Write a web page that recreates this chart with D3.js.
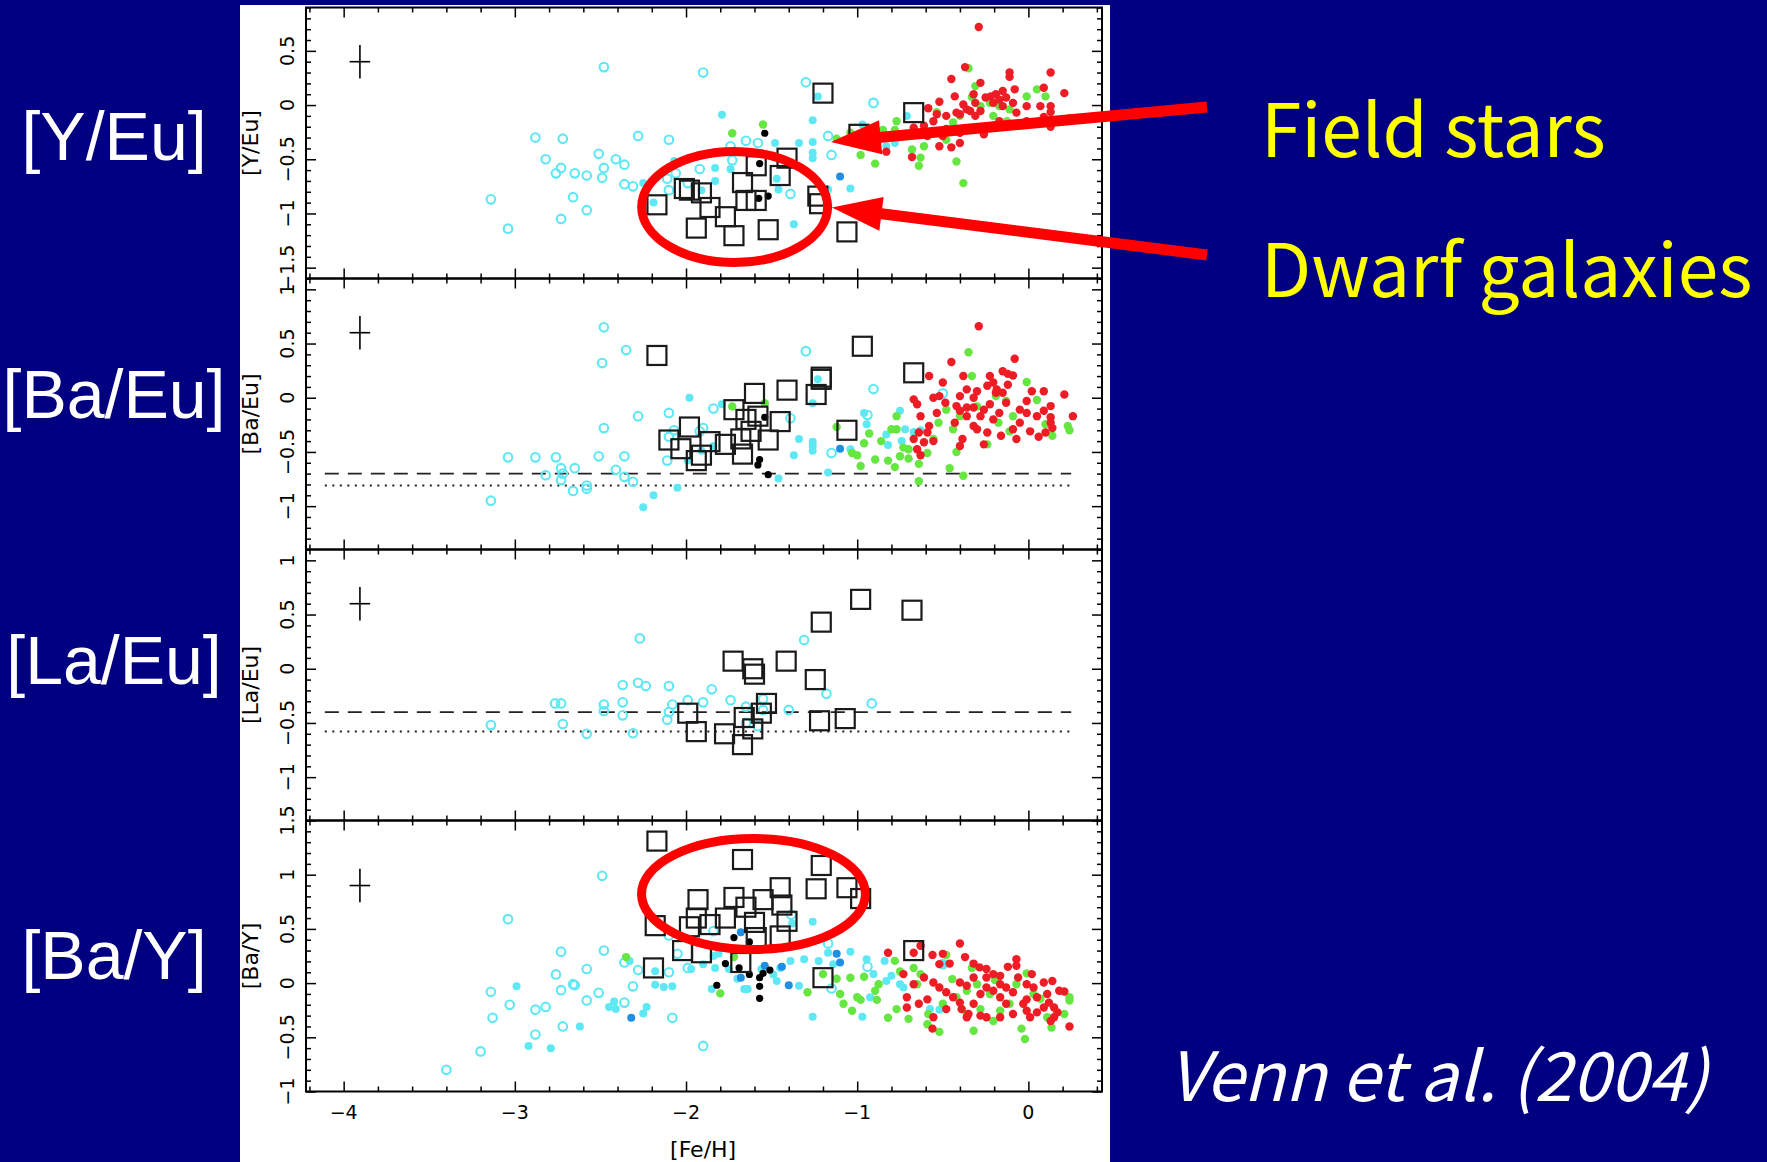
<!DOCTYPE html>
<html>
<head>
<meta charset="utf-8">
<script src="https://cdn.jsdelivr.net/npm/d3@7"></script>
<style>
  body { margin: 0; background: #000080; }
  svg { display: block; }
</style>
</head>
<body>
<svg id="chart" width="1767" height="1162"></svg>
<script>
// ---- data: [ [Fe/H], ratio ] ----

// panel 1: [Y/Eu]
const yeuHaloOpen = [[-2.48,0.35],[-1.90,0.30],[-2.88,-0.30],[-2.72,-0.31],[-2.28,-0.285],[-2.10,-0.32],[-2.82,-0.50],[-2.73,-0.58],[-2.76,-0.63],[-2.65,-0.63],[-2.58,-0.65],[-2.51,-0.45],[-2.48,-0.58],[-2.49,-0.67],[-2.41,-0.50],[-2.36,-0.55],[-2.36,-0.73],[-2.31,-0.75],[-3.14,-0.87],[-2.66,-0.85],[-2.58,-0.97],[-2.73,-1.05],[-3.04,-1.14],[-2.11,-0.68],[-2.06,-0.63],[-2.10,-0.785],[-1.99,-0.72],[-1.92,-0.59],[-1.74,-0.38],[-1.65,-0.33],[-1.58,-0.35],[-1.73,-0.51],[-1.30,0.21],[-0.905,0.02],[-1.17,-0.285],[-1.15,-0.46],[-1.39,-0.82]];
const yeuHaloFill = [[-1.79,-0.09],[-2.19,-0.90],[-1.83,-0.70],[-1.91,-0.785],[-1.83,-0.58],[-1.74,-0.59],[-2.25,-0.72],[-2.07,-0.515],[-1.23,0.08],[-1.26,-0.14],[-1.26,-0.34],[-1.34,-0.35],[-1.48,-0.35],[-1.26,-0.44],[-1.26,-0.49],[-1.47,-0.68],[-1.46,-0.78],[-1.17,-0.78],[-1.04,-0.77],[-1.37,-1.10],[-0.97,-0.18],[-0.71,-0.10],[-0.83,-0.38],[-0.78,-0.35]];
const yeuBlue = [[-1.10,-0.66]];
const yeuThick = [[-1.73,-0.26],[-1.55,-0.18],[-0.35,0.34],[-0.31,0.175],[0.05,0.145],[0.10,0.08],[-0.01,0.08],[-0.33,0.075],[-0.77,-0.15],[-0.85,-0.23],[-0.78,-0.23],[-0.98,-0.46],[-0.895,-0.54],[-0.68,-0.41],[-0.63,-0.485],[-0.64,-0.56],[-0.42,-0.52],[-0.38,-0.72],[-0.535,-0.065],[-0.67,-0.255],[-0.48,-0.32],[-0.44,-0.16],[-0.40,-0.10],[-0.28,-0.01],[-0.225,0.02],[-0.17,-0.01],[-0.11,-0.04],[-0.205,-0.10],[-0.125,-0.15],[0.24,-0.12],[-1.12,-0.31],[-1.04,-0.255],[-0.945,-0.38],[-0.61,-0.38],[-0.71,-0.285]];
const yeuThin = [[-0.29,0.72],[-0.37,0.35],[-0.45,0.24],[-0.11,0.30],[-0.11,0.26],[0.13,0.30],[-0.28,0.205],[0.21,0.11],[0.09,0.16],[-0.08,0.145],[-0.15,0.13],[-0.19,0.10],[-0.22,0.08],[-0.32,0.10],[-0.43,0.08],[-0.38,0.005],[-0.52,0.03],[-0.585,-0.03],[-0.42,-0.07],[-0.36,-0.04],[-0.31,-0.10],[-0.25,0.07],[-0.205,0.02],[-0.15,-0.01],[-0.09,0.02],[-0.07,-0.07],[-0.01,-0.01],[0.07,-0.01],[0.13,-0.01],[0.13,-0.065],[0.09,-0.11],[0.13,-0.20],[-0.01,-0.15],[-0.08,-0.18],[-0.17,-0.15],[-0.205,-0.19],[-0.26,-0.27],[-0.32,-0.22],[-0.40,-0.255],[-0.48,-0.22],[-0.555,-0.15],[-0.61,-0.19],[-0.67,-0.21],[-0.59,-0.285],[-0.50,-0.285],[-0.40,-0.35],[-0.45,-0.39],[-0.52,-0.38],[-0.68,-0.48],[-0.83,-0.43],[-0.40,-0.085],[-0.34,-0.055],[-0.28,-0.055],[-0.13,0.07],[-0.17,0.05],[-0.31,0.02],[-0.48,-0.10],[-0.535,-0.085]];
const yeuBlack = [[-1.54,-0.26],[-1.57,-0.54],[-1.575,-0.86],[-1.52,-0.84]];
const yeuDwarf = [[-2.17,-0.92],[-2.01,-0.77],[-1.98,-0.785],[-1.91,-0.81],[-1.86,-0.945],[-1.94,-1.135],[-1.77,-1.03],[-1.72,-1.205],[-1.67,-0.715],[-1.59,-0.56],[-1.65,-0.88],[-1.59,-0.88],[-1.52,-1.15],[-1.20,0.11],[-0.67,-0.07],[-1.41,-0.49],[-1.45,-0.65],[-1.23,-0.84],[-1.22,-0.91],[-1.06,-1.17],[-0.99,-0.27]];

// panel 2: [Ba/Eu]
const baeuHaloOpen = [[-2.48,0.65],[-2.35,0.44],[-2.49,0.32],[-2.28,-0.17],[-2.10,-0.14],[-2.48,-0.28],[-3.04,-0.55],[-2.88,-0.55],[-2.76,-0.55],[-2.51,-0.54],[-2.36,-0.54],[-2.73,-0.65],[-2.65,-0.65],[-2.82,-0.715],[-2.72,-0.70],[-2.73,-0.76],[-2.41,-0.665],[-2.36,-0.73],[-2.31,-0.775],[-2.66,-0.86],[-2.58,-0.81],[-2.58,-0.84],[-3.14,-0.95],[-2.11,-0.58],[-2.10,-0.36],[-1.84,-0.10],[-1.90,-0.28],[-2.07,-0.30],[-1.92,-0.31],[-1.30,0.43],[-0.905,0.08],[-1.39,-0.19],[-1.15,-0.51],[-0.94,-0.16],[-0.50,0.04]];
const baeuHaloFill = [[-1.98,0.0],[-1.79,-0.06],[-2.25,-1.01],[-2.19,-0.90],[-2.05,-0.83],[-1.99,-0.58],[-1.91,-0.49],[-1.84,-0.445],[-1.23,0.17],[-1.26,-0.05],[-0.96,-0.14],[-0.945,-0.245],[-1.34,-0.38],[-1.26,-0.405],[-1.26,-0.445],[-1.26,-0.49],[-1.37,-0.53],[-1.04,-0.475],[-1.17,-0.69],[-1.46,-0.745],[-0.83,-0.34],[-0.82,-0.435],[-0.75,-0.12],[-0.72,-0.29],[-0.74,-0.40],[-0.67,-0.315],[-0.63,-0.30]];
const baeuBlue = [[-1.10,-0.47]];
const baeuThick = [[-1.73,-0.08],[-1.54,-0.05],[-1.12,-0.27],[-1.03,-0.51],[-1.00,-0.53],[-0.98,-0.63],[-0.96,-0.42],[-0.93,-0.33],[-0.895,-0.57],[-0.86,-0.40],[-0.82,-0.58],[-0.78,-0.64],[-0.80,-0.29],[-0.77,-0.17],[-0.77,-0.29],[-0.75,-0.54],[-0.73,-0.46],[-0.70,-0.56],[-0.70,-0.475],[-0.64,-0.61],[-0.64,-0.77],[-0.59,-0.51],[-0.555,-0.38],[-0.525,-0.23],[-0.46,-0.65],[-0.44,-0.29],[-0.42,-0.50],[-0.38,-0.72],[-0.35,0.42],[-0.33,0.20],[-0.30,-0.08],[-0.24,-0.43],[-0.19,0.015],[-0.175,-0.23],[-0.11,-0.31],[-0.09,-0.17],[-0.01,0.145],[0.05,-0.02],[0.10,-0.245],[0.14,-0.35],[0.23,-0.26],[0.24,-0.30],[-0.48,-0.11],[-0.40,-0.17],[-0.13,-0.03]];
const baeuThin = [[-0.29,0.66],[-0.08,0.36],[-0.45,0.33],[-0.58,0.20],[-0.50,0.14],[-0.38,0.20],[-0.15,0.245],[-0.12,0.22],[-0.09,0.205],[-0.12,0.12],[-0.24,0.11],[-0.30,0.06],[-0.36,0.077],[-0.40,0.015],[-0.32,0.0],[-0.19,0.046],[-0.15,0.046],[-0.13,-0.046],[-0.225,-0.06],[-0.17,-0.14],[-0.205,-0.20],[-0.26,-0.11],[-0.36,-0.09],[-0.40,-0.12],[-0.42,-0.077],[-0.555,0.0],[-0.52,0.015],[-0.67,-0.015],[-0.65,-0.06],[-0.63,-0.17],[-0.58,-0.26],[-0.59,-0.32],[-0.67,-0.38],[-0.64,-0.32],[-0.61,-0.41],[-0.65,-0.475],[-0.63,-0.53],[-0.555,-0.40],[-0.535,-0.14],[-0.485,-0.046],[-0.43,-0.23],[-0.385,-0.38],[-0.40,-0.445],[-0.36,-0.17],[-0.32,-0.26],[-0.30,-0.29],[-0.26,-0.43],[-0.24,-0.32],[-0.16,-0.35],[-0.09,-0.29],[-0.07,-0.38],[-0.05,-0.23],[-0.01,-0.14],[0.01,-0.31],[0.02,0.06],[0.05,-0.17],[0.09,0.06],[0.09,-0.12],[0.13,-0.077],[0.13,-0.18],[0.13,-0.23],[0.14,-0.28],[0.10,-0.32],[0.06,-0.36],[-0.01,-0.03],[-0.05,-0.11],[0.21,0.03],[0.26,-0.17],[-0.225,0.20],[-0.205,0.14],[-0.185,0.077],[-0.28,-0.17],[-0.32,-0.09]];
const baeuBlack = [[-1.54,-0.18],[-1.57,-0.57],[-1.58,-0.62],[-1.52,-0.71]];
const baeuDwarf = [[-2.17,0.39],[-0.97,0.475],[-0.67,0.23],[-1.21,0.17],[-1.21,0.19],[-1.24,0.03],[-1.41,0.07],[-1.60,0.04],[-1.72,-0.11],[-1.65,-0.20],[-1.62,-0.31],[-1.68,-0.38],[-1.77,-0.43],[-1.67,-0.52],[-1.98,-0.27],[-2.10,-0.39],[-2.03,-0.47],[-1.91,-0.53],[-1.94,-0.58],[-1.86,-0.405],[-1.45,-0.22],[-1.52,-0.39],[-1.06,-0.30],[-1.58,-0.17]];

// panel 3: [La/Eu]
const laeuHaloOpen = [[-2.27,0.28],[-1.31,0.265],[-2.37,-0.15],[-2.28,-0.13],[-2.235,-0.16],[-2.10,-0.16],[-1.85,-0.19],[-1.18,-0.23],[-2.765,-0.32],[-2.73,-0.32],[-2.48,-0.33],[-2.48,-0.39],[-2.37,-0.31],[-2.37,-0.43],[-2.08,-0.33],[-2.10,-0.40],[-2.11,-0.47],[-1.99,-0.29],[-1.90,-0.31],[-1.74,-0.29],[-1.55,-0.28],[-1.65,-0.35],[-1.55,-0.38],[-1.40,-0.38],[-0.915,-0.32],[-3.14,-0.52],[-2.72,-0.51],[-2.58,-0.60],[-2.31,-0.595],[-1.65,-0.50],[-1.58,-0.53]];
const laeuDwarf = [[-0.98,0.64],[-0.68,0.54],[-1.21,0.43],[-1.725,0.07],[-1.415,0.07],[-1.61,0.0],[-1.60,-0.05],[-1.245,-0.10],[-1.53,-0.32],[-1.56,-0.41],[-1.99,-0.41],[-1.66,-0.45],[-1.22,-0.48],[-1.07,-0.46],[-1.94,-0.58],[-1.775,-0.60],[-1.61,-0.555],[-1.67,-0.70]];

// panel 4: [Ba/Y]
const bayHaloOpen = [[-2.49,0.99],[-3.04,0.59],[-2.73,0.29],[-2.48,0.30],[-2.58,0.13],[-2.76,0.08],[-3.14,-0.08],[-2.73,-0.065],[-2.66,-0.01],[-2.65,-0.02],[-2.51,-0.09],[-2.58,-0.16],[-3.03,-0.20],[-2.88,-0.245],[-2.82,-0.22],[-3.13,-0.32],[-2.72,-0.40],[-2.88,-0.475],[-3.20,-0.63],[-3.40,-0.80],[-2.08,-0.32],[-1.90,-0.58],[-2.36,-0.18],[-2.31,-0.03],[-2.28,0.12],[-2.36,0.19],[-2.10,0.10],[-2.05,0.27],[-1.99,0.14],[-1.84,0.48],[-2.10,0.44],[-1.385,0.63],[-1.17,0.365],[-0.94,0.15],[-0.50,0.175],[-1.15,-0.05]];
const bayHaloFill = [[-2.99,-0.03],[-2.92,-0.58],[-2.79,-0.60],[-2.62,-0.40],[-2.45,-0.22],[-2.42,-0.17],[-2.41,-0.24],[-2.23,-0.22],[-2.25,-0.28],[-2.33,0.205],[-2.18,0.11],[-2.18,-0.015],[-2.13,-0.035],[-2.08,-0.03],[-1.97,0.13],[-1.83,0.14],[-1.81,0.27],[-1.85,-0.055],[-1.70,0.04],[-1.66,-0.055],[-1.64,-0.055],[-1.57,0.31],[-1.56,0.13],[-1.26,0.565],[-1.38,0.55],[-1.04,0.29],[-1.14,0.175],[-1.225,0.205],[-1.31,0.22],[-1.39,0.205],[-1.45,0.14],[-1.49,0.08],[-1.47,0.02],[-1.34,-0.025],[-1.26,-0.31],[-1.17,0.28],[-0.945,0.22],[-0.925,-0.13],[-0.97,-0.31],[-0.905,0.083],[-0.84,0.205],[-0.83,0.02],[-0.80,0.067],[-0.75,-0.01],[-0.73,-0.04],[-0.575,-0.24],[-0.52,-0.245],[-0.49,0.175],[-1.90,0.175],[-1.75,0.13],[-1.84,0.25]];
const bayBlue = [[-2.32,-0.32],[-1.68,0.47],[-1.68,0.05],[-1.54,0.16],[-1.12,0.27],[-1.10,0.19],[-1.44,0.15],[-1.40,-0.02]];
const bayThick = [[-2.35,0.24],[-1.80,-0.095],[-1.72,0.24],[-1.29,-0.085],[-1.20,0.083],[-1.12,0.04],[-1.10,-0.10],[-1.08,-0.19],[-1.04,0.05],[-1.03,-0.255],[-1.00,-0.13],[-0.98,-0.155],[-0.96,0.058],[-0.895,-0.07],[-0.885,-0.155],[-0.875,-0.01],[-0.82,-0.32],[-0.78,0.205],[-0.77,-0.24],[-0.75,0.107],[-0.70,-0.33],[-0.67,0.14],[-0.63,0.083],[-0.59,-0.38],[-0.585,-0.285],[-0.52,-0.45],[-0.48,0.26],[-0.50,-0.19],[-0.445,0.037],[-0.42,-0.13],[-0.39,-0.24],[-0.36,-0.07],[-0.33,0.14],[-0.30,-0.01],[-0.28,-0.24],[-0.225,-0.10],[-0.195,0.028],[-0.165,-0.255],[-0.11,-0.19],[-0.07,-0.01],[-0.04,-0.42],[-0.02,-0.515],[-0.01,0.09],[0.03,-0.10],[0.07,-0.145],[0.11,-0.315],[0.135,-0.41],[0.21,-0.285],[0.24,-0.16],[0.24,-0.13],[-0.205,-0.35],[-0.36,-0.285],[-0.32,-0.44],[-0.65,-0.01]];
const bayThin = [[-0.40,0.365],[-0.63,0.345],[-0.82,0.28],[-0.67,0.28],[-0.56,0.26],[-0.50,0.27],[-0.46,0.18],[-0.37,0.24],[-0.32,0.18],[-0.285,0.145],[-0.245,0.13],[-0.205,0.083],[-0.165,0.067],[-0.12,0.15],[-0.07,0.22],[-0.07,0.16],[0.02,0.083],[-0.06,0.052],[-0.01,-0.01],[0.03,-0.04],[0.09,0.006],[0.14,0.02],[0.18,-0.07],[0.21,-0.077],[0.11,-0.10],[0.05,-0.13],[-0.01,-0.15],[-0.03,-0.19],[-0.01,-0.255],[0.01,-0.315],[0.05,-0.27],[0.09,-0.225],[0.12,-0.18],[0.15,-0.225],[0.17,-0.27],[0.15,-0.315],[0.13,-0.35],[0.24,-0.40],[-0.09,-0.085],[-0.13,-0.04],[-0.165,-0.01],[-0.205,-0.07],[-0.245,-0.04],[-0.28,-0.10],[-0.32,-0.19],[-0.35,-0.285],[-0.39,-0.24],[-0.40,-0.18],[-0.44,-0.13],[-0.48,-0.085],[-0.52,-0.04],[-0.555,0.006],[-0.61,0.052],[-0.67,-0.01],[-0.71,-0.13],[-0.71,-0.225],[-0.64,-0.19],[-0.59,-0.15],[-0.555,-0.315],[-0.56,-0.42],[-0.40,0.006],[-0.36,-0.025],[-0.32,0.052],[-0.245,0.052],[-0.165,-0.13],[-0.13,-0.19],[-0.09,-0.285],[-0.165,-0.315],[-0.245,-0.315],[-0.28,-0.30],[-0.36,-0.315],[-0.48,-0.24],[-0.52,0.175],[-0.73,0.083]];
const bayBlack = [[-1.72,0.42],[-1.63,0.38],[-1.82,-0.02],[-1.69,0.14],[-1.63,0.08],[-1.77,0.18],[-1.57,-0.03],[-1.57,-0.14],[-1.57,0.05],[-1.51,0.12],[-1.55,0.09]];
const bayDwarf = [[-2.17,1.31],[-1.67,1.14],[-1.93,0.77],[-1.72,0.79],[-1.65,0.70],[-1.77,0.60],[-1.94,0.60],[-1.86,0.54],[-1.98,0.52],[-2.18,0.53],[-1.60,0.56],[-1.59,0.42],[-2.02,0.30],[-1.91,0.28],[-2.19,0.14],[-1.68,0.19],[-1.21,1.085],[-1.45,0.88],[-1.24,0.87],[-1.06,0.88],[-0.98,0.78],[-1.44,0.72],[-1.41,0.57],[-1.45,0.435],[-1.55,0.77],[-0.67,0.30],[-1.20,0.05]];

// axes
const panelNames = ["[Y/Eu]", "[Ba/Eu]", "[La/Eu]", "[Ba/Y]"];
const panelDomains = [[-1.6, 0.9], [-1.4, 1.1], [-1.4, 1.1], [-1.0, 1.5]];
const panelTickLabels = [[0.5, 0, -0.5, -1, -1.5], [1, 0.5, 0, -0.5, -1], [1, 0.5, 0, -0.5, -1], [1.5, 1, 0.5, 0, -0.5, -1]];
const errorBarY = [0.40, 0.60, 0.60, 0.90];
const slideLabels = ["[Y/Eu]", "[Ba/Eu]", "[La/Eu]", "[Ba/Y]"];
const slideLabelBaselines = [160, 418, 684, 979];
const xDomain = [-4.22, 0.43];
const xMajor = [-4, -3, -2, -1, 0];
// solar r-process ratios (dashed / dotted)
const rLines = [null, { dashed: -0.70, dotted: -0.81 }, { dashed: -0.40, dotted: -0.58 }, null];

const panels = [
    { haloOpen: yeuHaloOpen, haloFill: yeuHaloFill, blue: yeuBlue, thick: yeuThick, thin: yeuThin, black: yeuBlack, dwarf: yeuDwarf },
    { haloOpen: baeuHaloOpen, haloFill: baeuHaloFill, blue: baeuBlue, thick: baeuThick, thin: baeuThin, black: baeuBlack, dwarf: baeuDwarf },
    { haloOpen: laeuHaloOpen, haloFill: [], blue: [], thick: [], thin: [], black: [], dwarf: laeuDwarf },
    { haloOpen: bayHaloOpen, haloFill: bayHaloFill, blue: bayBlue, thick: bayThick, thin: bayThin, black: bayBlack, dwarf: bayDwarf }
];

const CYAN = "#5ee8f4", BLUE = "#1f8fe6", GREEN = "#66e640", RED = "#ee1c25";
const plotFont = "'DejaVu Sans', sans-serif";
const fmt = v => (v < 0 ? "\u2212" : "") + Math.abs(v);

const svg = d3.select("#chart");
svg.append("rect").attr("width", 1767).attr("height", 1162).attr("fill", "#000080");
svg.append("rect").attr("x", 240).attr("y", 5).attr("width", 870).attr("height", 1157).attr("fill", "#fff");

const x = d3.scaleLinear().domain(xDomain).range([306, 1102]);
const panelH = 271, top0 = 7.5;
const xMinor = d3.range(-21, 3).map(k => k / 5).filter(v => !xMajor.includes(v));
const yScales = [];

panels.forEach((p, i) => {
    const y0 = top0 + i * panelH;
    const y = d3.scaleLinear().domain(panelDomains[i]).range([y0 + panelH, y0]);
    yScales.push(y);
    const g = svg.append("g");

    // reference lines
    const rl = rLines[i];
    if (rl) {
        g.append("line").attr("x1", x(-4.11)).attr("x2", x(0.25))
            .attr("y1", y(rl.dashed)).attr("y2", y(rl.dashed))
            .attr("stroke", "#222").attr("stroke-width", 1.8).attr("stroke-dasharray", "14,9");
        g.append("line").attr("x1", x(-4.11)).attr("x2", x(0.25))
            .attr("y1", y(rl.dotted)).attr("y2", y(rl.dotted))
            .attr("stroke", "#222").attr("stroke-width", 2).attr("stroke-dasharray", "2,5.5");
    }

    // points
    g.append("g").selectAll("circle").data(p.haloOpen).join("circle")
        .attr("cx", d => x(d[0])).attr("cy", d => y(d[1])).attr("r", 4.3)
        .attr("fill", "none").attr("stroke", CYAN).attr("stroke-width", 2.1);
    [[p.haloFill, CYAN, 4], [p.blue, BLUE, 4], [p.thick, GREEN, 4.2], [p.thin, RED, 4.2], [p.black, "#000", 3.6]]
        .forEach(([data, col, r]) => {
            g.append("g").selectAll("circle").data(data).join("circle")
                .attr("cx", d => x(d[0])).attr("cy", d => y(d[1])).attr("r", r).attr("fill", col);
        });
    g.append("g").selectAll("rect").data(p.dwarf).join("rect")
        .attr("x", d => x(d[0]) - 9.5).attr("y", d => y(d[1]) - 9.5)
        .attr("width", 19).attr("height", 19)
        .attr("fill", "none").attr("stroke", "#1a1a1a").attr("stroke-width", 2.2);

    // error cross
    const ex = -3.905, ey = errorBarY[i];
    g.append("line").attr("x1", x(ex)).attr("x2", x(ex)).attr("y1", y(ey - 0.155)).attr("y2", y(ey + 0.155))
        .attr("stroke", "#000").attr("stroke-width", 1.6);
    g.append("line").attr("x1", x(ex - 0.06)).attr("x2", x(ex + 0.06)).attr("y1", y(ey)).attr("y2", y(ey))
        .attr("stroke", "#000").attr("stroke-width", 1.6);

    // ticks on all four sides, pointing inward
    const d = panelDomains[i];
    const yAll = d3.range(Math.ceil(d[0] * 10), Math.floor(d[1] * 10) + 1);
    const yMajor = yAll.filter(k => k % 5 === 0).map(k => k / 10);
    const yMinor = yAll.filter(k => k % 5 !== 0).map(k => k / 10);
    const axes = [
        [d3.axisBottom(x), xMajor, xMinor, `translate(0,${y0 + panelH})`],
        [d3.axisTop(x), xMajor, xMinor, `translate(0,${y0})`],
        [d3.axisLeft(y), yMajor, yMinor, `translate(306,0)`],
        [d3.axisRight(y), yMajor, yMinor, `translate(1102,0)`]
    ];
    axes.forEach(([ax, maj, min, tr]) => {
        [[maj, 10], [min, 5]].forEach(([vals, len]) => {
            const a = g.append("g").attr("transform", tr)
                .call(ax.tickValues(vals).tickSize(-len).tickFormat(""));
            a.select(".domain").remove();
            a.selectAll("line").attr("stroke", "#000").attr("stroke-width", 1.5);
        });
    });

    g.append("rect").attr("x", 306).attr("y", y0).attr("width", 1102 - 306).attr("height", panelH)
        .attr("fill", "none").attr("stroke", "#000").attr("stroke-width", 2);

    // rotated y tick labels
    panelTickLabels[i].forEach(v => {
        g.append("text").attr("x", 294).attr("y", y(v))
            .attr("transform", `rotate(-90,294,${y(v)})`)
            .attr("text-anchor", "middle").attr("font-family", plotFont).attr("font-size", 19)
            .text(fmt(v));
    });
    g.append("text").attr("x", 258).attr("y", y0 + panelH / 2)
        .attr("transform", `rotate(-90,258,${y0 + panelH / 2})`)
        .attr("text-anchor", "middle").attr("font-family", plotFont).attr("font-size", 22)
        .text(panelNames[i]);

    // slide label on the blue margin
    svg.append("text").attr("x", 114).attr("y", slideLabelBaselines[i])
        .attr("text-anchor", "middle").attr("fill", "#fff")
        .attr("font-family", "'Liberation Sans', Arial, sans-serif").attr("font-size", 68)
        .text(slideLabels[i]);
});

// x tick labels and title
xMajor.forEach(v => {
    svg.append("text").attr("x", x(v)).attr("y", 1119).attr("text-anchor", "middle")
        .attr("font-family", plotFont).attr("font-size", 19).text(fmt(v));
});
svg.append("text").attr("x", x(-1.9)).attr("y", 1157).attr("text-anchor", "middle")
    .attr("font-family", plotFont).attr("font-size", 22).text("[Fe/H]");

// annotations: ellipses and arrows
const red = "#ff0000";
const e1 = { cx: -1.716, cy: -0.94, rx: 0.543, ry: 0.512, panel: 0 };
const e2 = { cx: -1.606, cy: 0.822, rx: 0.654, ry: 0.512, panel: 3 };
[e1, e2].forEach(e => {
    const y = yScales[e.panel];
    svg.append("ellipse").attr("cx", x(e.cx)).attr("cy", y(e.cy))
        .attr("rx", x(e.cx + e.rx) - x(e.cx)).attr("ry", y(e.cy) - y(e.cy + e.ry))
        .attr("fill", "none").attr("stroke", red).attr("stroke-width", 9);
});

function arrow(tail, tip) {
    const dx = tip[0] - tail[0], dy = tip[1] - tail[1];
    const L = Math.hypot(dx, dy), ux = dx / L, uy = dy / L;
    const headLen = 50, headW = 17;
    const bx = tip[0] - ux * headLen, by = tip[1] - uy * headLen;
    svg.append("line").attr("x1", tail[0]).attr("y1", tail[1]).attr("x2", bx + ux * 2).attr("y2", by + uy * 2)
        .attr("stroke", red).attr("stroke-width", 11);
    svg.append("polygon")
        .attr("points", [[tip[0], tip[1]], [bx - uy * headW, by + ux * headW], [bx + uy * headW, by - ux * headW]].map(p => p.join(",")).join(" "))
        .attr("fill", red);
}
arrow([1207, 107], [x(-1.154), yScales[0](-0.34)]);
arrow([1207, 255], [x(-1.148), yScales[0](-0.945)]);

const slideFont = "'Noto Sans CJK JP', 'Noto Sans', sans-serif";
svg.append("text").attr("x", 1261).attr("y", 157).attr("fill", "#ffff00")
    .attr("font-family", slideFont).attr("font-size", 73).text("Field stars");
svg.append("text").attr("x", 1261).attr("y", 297).attr("fill", "#ffff00")
    .attr("font-family", slideFont).attr("font-size", 73).text("Dwarf galaxies");
svg.append("text").attr("x", 1168).attr("y", 1101).attr("fill", "#fff")
    .attr("font-family", slideFont).attr("font-size", 68).attr("font-style", "italic")
    .text("Venn et al. (2004)");
</script>
</body>
</html>
